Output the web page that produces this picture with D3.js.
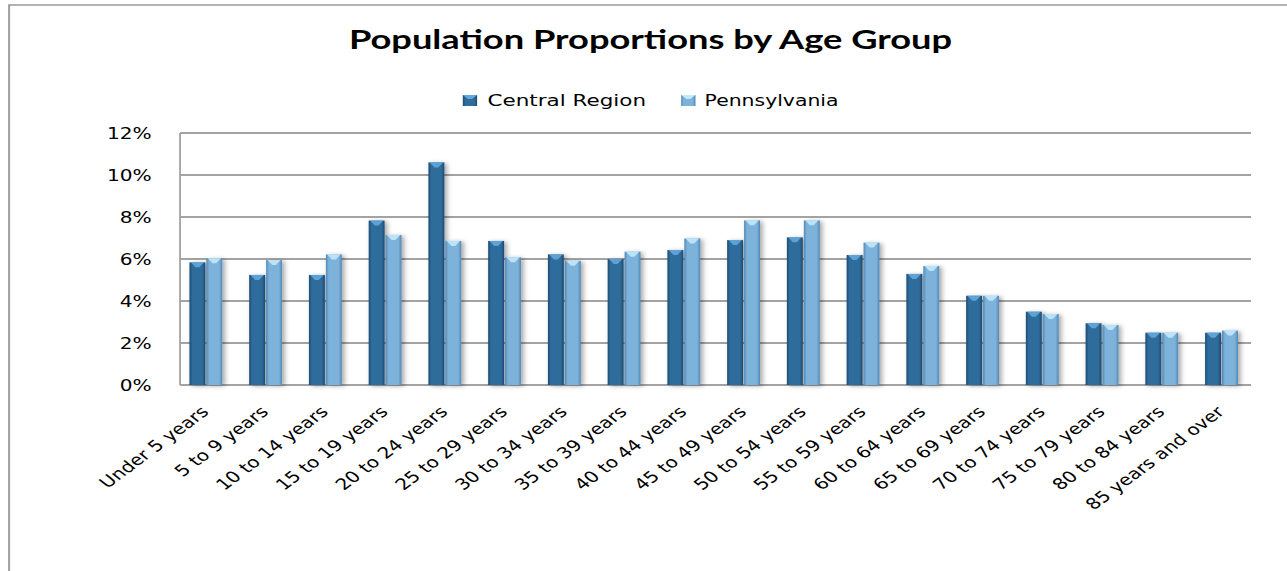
<!DOCTYPE html>
<html>
<head>
<meta charset="utf-8">
<script src="https://cdn.jsdelivr.net/npm/d3@7"></script>
<style>
  html, body { margin: 0; padding: 0; background: #fff; }
  svg { display: block; }
</style>
</head>
<body>
<div class="chartArea"></div>
<script>
const categories = ['Under 5 years', '5 to 9 years', '10 to 14 years', '15 to 19 years', '20 to 24 years',
    '25 to 29 years', '30 to 34 years', '35 to 39 years', '40 to 44 years', '45 to 49 years',
    '50 to 54 years', '55 to 59 years', '60 to 64 years', '65 to 69 years', '70 to 74 years',
    '75 to 79 years', '80 to 84 years', '85 years and over'];
const seriesNames = ['Central Region', 'Pennsylvania'];
const centralRegion = [5.84, 5.24, 5.24, 7.83, 10.6, 6.86, 6.22, 6.0, 6.43, 6.9, 7.03, 6.19, 5.29, 4.25, 3.49, 2.94, 2.49, 2.49];
const pennsylvania = [6.03, 5.95, 6.22, 7.14, 6.86, 6.08, 5.92, 6.35, 6.98, 7.84, 7.84, 6.78, 5.67, 4.25, 3.38, 2.86, 2.49, 2.59];
const yTicks = [0, 2, 4, 6, 8, 10, 12];

// the reference is an office chart stretched sideways, so draw in a narrower box and stretch it
const stretch = 1.3;
const width = 1287 / stretch;
const height = 571;

const svg = d3.select('.chartArea').append('svg')
    .attr('width', 1287)
    .attr('height', 571)
    .attr('viewBox', `0 0 ${width} ${height}`)
    .attr('preserveAspectRatio', 'none');

const defs = svg.append('defs');

// horizontal gradients give the bars their rounded look
const palettes = [
    { id: 'gradCR', edge: '#1d4a70', mid: '#2f6c9c', cap: '#62a9dd' },
    { id: 'gradPA', edge: '#5288b6', mid: '#7db2da', cap: '#c2e8fa' }
];
palettes.forEach(p => {
    const g = defs.append('linearGradient').attr('id', p.id)
        .attr('x1', '0%').attr('x2', '100%').attr('y1', '0%').attr('y2', '0%');
    g.append('stop').attr('offset', '0%').attr('stop-color', p.edge);
    g.append('stop').attr('offset', '18%').attr('stop-color', p.mid);
    g.append('stop').attr('offset', '80%').attr('stop-color', p.mid);
    g.append('stop').attr('offset', '100%').attr('stop-color', p.edge);
});

const shadow = defs.append('filter').attr('id', 'shadow')
    .attr('x', '-30%').attr('y', '-10%').attr('width', '180%').attr('height', '130%');
shadow.append('feDropShadow')
    .attr('dx', 2).attr('dy', 1).attr('stdDeviation', 2)
    .attr('flood-color', '#000').attr('flood-opacity', 0.35);

// chart border, only top and left are in view
svg.append('rect')
    .attr('x', 7).attr('y', 5)
    .attr('width', width + 20).attr('height', height + 20)
    .attr('fill', 'none')
    .attr('stroke', '#a0a0a0')
    .attr('stroke-width', 1.6);

// title
svg.append('text')
    .attr('x', 500.4).attr('y', 49)
    .attr('text-anchor', 'middle')
    .attr('font-family', 'Lato, sans-serif')
    .attr('font-weight', 'bold')
    .attr('font-size', 26)
    .attr('textLength', 464)
    .attr('lengthAdjust', 'spacingAndGlyphs')
    .attr('fill', '#000')
    .text('Population Proportions by Age Group');

// scales
const plot = { left: 138.5, right: 962.3, top: 133, bottom: 385 };

const x0 = d3.scaleBand()
    .domain(categories)
    .range([176 / stretch, 1251.4 / stretch])
    .paddingInner(0.45)
    .paddingOuter(0.225);

const x1 = d3.scaleBand()
    .domain(seriesNames)
    .range([0, x0.bandwidth()])
    .paddingInner(0.06);

const y = d3.scaleLinear()
    .domain([0, 12])
    .range([plot.bottom, plot.top]);

// gridlines
svg.append('g')
    .selectAll('line')
    .data(yTicks)
    .join('line')
        .attr('x1', plot.left).attr('x2', plot.right)
        .attr('y1', d => y(d)).attr('y2', d => y(d))
        .attr('stroke', '#a3a3a3')
        .attr('stroke-width', 1.8);

// y axis line
svg.append('line')
    .attr('x1', plot.left).attr('x2', plot.left)
    .attr('y1', y(12)).attr('y2', y(0))
    .attr('stroke', '#a3a3a3')
    .attr('stroke-width', 1.4);

// y tick labels
svg.append('g')
    .selectAll('text')
    .data(yTicks)
    .join('text')
        .attr('x', 116.7)
        .attr('y', d => y(d))
        .attr('dy', '0.36em')
        .attr('text-anchor', 'end')
        .attr('font-family', 'DejaVu Sans, sans-serif')
        .attr('font-size', 15.5)
        .attr('fill', '#000')
        .text(d => d + '%');

// bars
const rows = categories.map((c, i) => ({
    cat: c,
    values: [
        { name: seriesNames[0], value: centralRegion[i], fill: 'url(#gradCR)', cap: palettes[0].cap },
        { name: seriesNames[1], value: pennsylvania[i], fill: 'url(#gradPA)', cap: palettes[1].cap }
    ]
}));

const groups = svg.append('g')
    .selectAll('g')
    .data(rows)
    .join('g')
        .attr('transform', d => `translate(${x0(d.cat)},0)`);

const bar = groups.selectAll('g')
    .data(d => d.values)
    .join('g');

bar.append('rect')
    .attr('x', d => x1(d.name))
    .attr('y', d => y(d.value))
    .attr('width', x1.bandwidth())
    .attr('height', d => y(0) - y(d.value))
    .attr('fill', d => d.fill)
    .attr('filter', 'url(#shadow)');

// little bevel at the top of each bar
bar.append('path')
    .attr('d', d => {
        const bx = x1(d.name), bw = x1.bandwidth(), by = y(d.value);
        return `M${bx + 1},${by} L${bx + bw - 1},${by} L${bx + bw * 0.62},${by + 5} L${bx + bw * 0.38},${by + 5} Z`;
    })
    .attr('fill', d => d.cap)
    .attr('opacity', 0.9);

// x labels, rotated
svg.append('g')
    .selectAll('text')
    .data(categories)
    .join('text')
        .attr('transform', d => `translate(${x0(d) + x0.bandwidth() / 2 + 3},${plot.bottom + 28}) rotate(-44)`)
        .attr('text-anchor', 'end')
        .attr('font-family', 'DejaVu Sans, sans-serif')
        .attr('font-size', 15.5)
        .attr('fill', '#000')
        .text(d => d);

// legend
const legendItems = [
    { name: seriesNames[0], mx: 356, tx: 375, len: 122, fill: 'url(#gradCR)', cap: palettes[0].cap },
    { name: seriesNames[1], mx: 524, tx: 542, len: 103, fill: 'url(#gradPA)', cap: palettes[1].cap }
];
const legend = svg.append('g')
    .selectAll('g')
    .data(legendItems)
    .join('g');

legend.append('rect')
    .attr('x', d => d.mx).attr('y', 95)
    .attr('width', 11).attr('height', 11)
    .attr('fill', d => d.fill);

legend.append('path')
    .attr('d', d => `M${d.mx},95 L${d.mx + 11},95 L${d.mx + 7},99 L${d.mx + 4},99 Z`)
    .attr('fill', d => d.cap);

legend.append('text')
    .attr('x', d => d.tx).attr('y', 106)
    .attr('font-family', 'DejaVu Sans, sans-serif')
    .attr('font-size', 16)
    .attr('textLength', d => d.len)
    .attr('lengthAdjust', 'spacingAndGlyphs')
    .attr('fill', '#000')
    .text(d => d.name);
</script>
</body>
</html>
